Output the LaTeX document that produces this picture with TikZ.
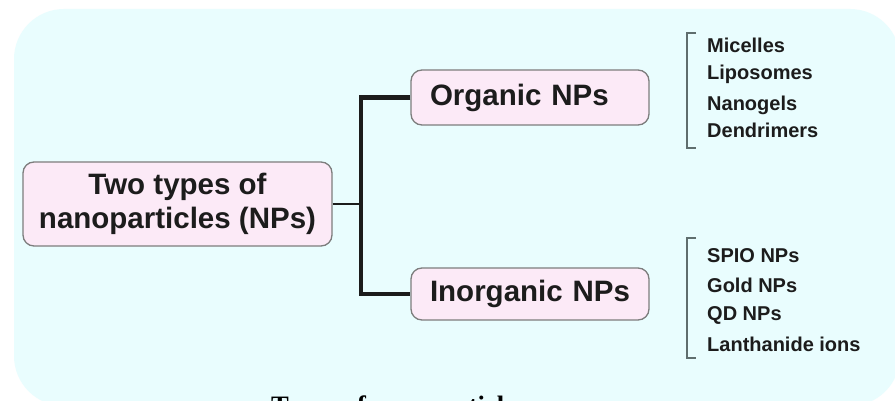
\documentclass[tikz,border=0pt]{standalone}
\usepackage{fontspec}
\setmainfont{Liberation Sans}
\newfontfamily\capfont{Liberation Serif}
\definecolor{bgc}{RGB}{233,253,254}
\definecolor{boxfill}{RGB}{252,234,247}
\definecolor{boxline}{RGB}{125,125,125}
\definecolor{brk}{RGB}{95,110,110}
\definecolor{ink}{RGB}{28,28,28}
\tikzset{
  topic/.style={draw=boxline, line width=1.3pt, fill=boxfill, rounded corners=11pt, text=ink},
  bigtxt/.style={font=\fontsize{29.5}{34}\selectfont\bfseries},
  item/.style={anchor=base west, inner sep=0pt, text=ink, font=\fontsize{20}{24}\selectfont\bfseries},
  bar/.style={line width=4.5pt, draw=ink},
  thinbar/.style={line width=1.6pt, draw=ink},
  bracketline/.style={line width=2pt, draw=brk}
}
\begin{document}
\begin{tikzpicture}[x=1pt,y=1pt]
\useasboundingbox (0,0) rectangle (895,-401);
\clip (0,0) rectangle (895,-401);
\fill[white] (0,0) rectangle (895,-401);
\fill[bgc, rounded corners=50pt] (14,-9) rectangle (900,-406);

% main nodes
\node[topic, bigtxt, align=center, minimum width=309pt, minimum height=84pt, inner sep=0pt] (root) at (177.5,-204) {Two types of\\nanoparticles (NPs)};
\node[topic, bigtxt, text width=200pt, align=left, inner xsep=19pt, minimum height=55pt, inner ysep=0pt] (org) at (530,-97.5) {Organic NPs};
\node[topic, bigtxt, text width=200pt, align=left, inner xsep=19pt, minimum height=52pt, inner ysep=0pt] (inorg) at (530,-294) {Inorganic NPs};

% connectors
\coordinate (j) at (361,-204);
\draw[thinbar] (root.east) -- (j);
\draw[bar] (org.west) -| (j) |- (inorg.west);

% organic list
\coordinate (b1t) at (687,-33);
\coordinate (b1b) at (687,-148);
\draw[bracketline] ([xshift=9pt]b1t) -- (b1t) -- (b1b) -- ([xshift=9pt]b1b);
\node[item] (m1) at (707,-53) {Micelles};
\node[item] (m2) at (707,-80) {Liposomes};
\node[item] (m3) at (707,-111) {Nanogels};
\node[item] (m4) at (707,-138) {Dendrimers};

% inorganic list
\coordinate (b2t) at (687,-238);
\coordinate (b2b) at (687,-358);
\draw[bracketline] ([xshift=9pt]b2t) -- (b2t) -- (b2b) -- ([xshift=9pt]b2b);
\node[item] (n1) at (707,-262) {SPIO NPs};
\node[item] (n2) at (707,-292) {Gold NPs};
\node[item] (n3) at (707,-320) {QD NPs};
\node[item] (n4) at (707,-351) {Lanthanide ions};

% caption (cut off at the bottom)
\node[anchor=base west, inner sep=0pt, font=\capfont\fontsize{26.6}{30}\selectfont\bfseries] (cap) at (271,-414.5) {Types of nanoparticles};
\end{tikzpicture}
\end{document}
